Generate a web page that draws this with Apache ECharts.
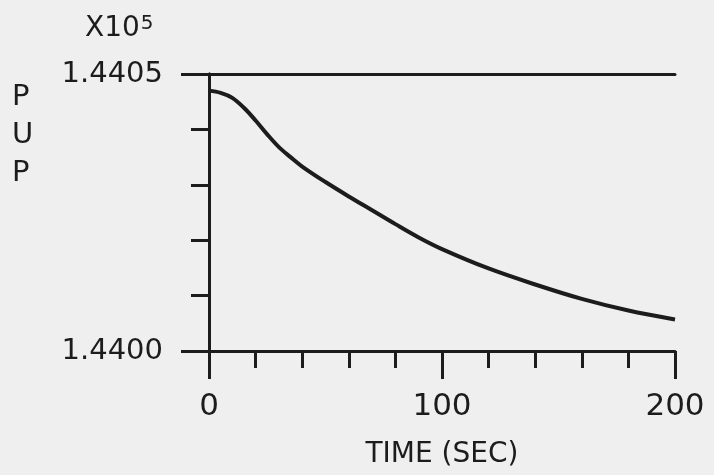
<!DOCTYPE html>
<html>
<head>
<meta charset="utf-8">
<script src="https://cdn.jsdelivr.net/npm/echarts@6/dist/echarts.min.js"></script>
<style>
  html, body { margin: 0; padding: 0; background: #efefef; }
  #chart { width: 714px; height: 475px; }
</style>
</head>
<body>
<div id="chart"></div>
<script>
// Pressure upstream (PUP) vs. time, raw units; axis labels are shown in units of 10^5
const timeSec = [0, 5, 10, 15, 20, 25, 30, 35, 40, 50, 60, 70, 80, 90, 100, 120, 140, 160, 180, 200];
const pup = [144047.0, 144046.6, 144045.7, 144043.9, 144041.6, 144039.1, 144036.8, 144035.0, 144033.3,
             144030.5, 144027.9, 144025.4, 144022.9, 144020.5, 144018.4, 144014.9, 144012.0,
             144009.4, 144007.3, 144005.7];
const xTickLabels = ['0', '100', '200'];
const yRange = [144000, 144050];
const scaleFactor = 1e5;

const ink = '#1c1c1c';
const fontFamily = 'DejaVu Sans';

const chart = echarts.init(document.getElementById('chart'));
const lineStyle = { color: ink, width: 3 };

chart.setOption({
  backgroundColor: '#efefef',
  animation: false,
  grid: { left: 209, right: 39, top: 74, bottom: 124 },
  xAxis: [
    { // bottom axis line with minor ticks every 20 s
      type: 'value', position: 'bottom', min: 0, max: 200, interval: 20,
      axisLine: { show: true, lineStyle },
      axisTick: { show: true, inside: false, length: 17, lineStyle },
      axisLabel: { show: false }, splitLine: { show: false }
    },
    { // major ticks and labels every 100 s
      type: 'value', position: 'bottom', min: 0, max: 200, interval: 100,
      axisLine: { show: false },
      axisTick: { show: true, inside: false, length: 28, lineStyle },
      axisLabel: {
        show: true, margin: 40, color: ink, fontSize: 31, fontFamily,
        formatter: (v) => xTickLabels[Math.round(v / 100)]
      },
      splitLine: { show: false },
      name: 'TIME (SEC)', nameLocation: 'middle', nameGap: 90,
      nameTextStyle: { color: ink, fontSize: 28, fontFamily }
    },
    { // top frame
      type: 'value', position: 'top', min: 0, max: 200,
      axisLine: { show: true, lineStyle }, axisTick: { show: false },
      axisLabel: { show: false }, splitLine: { show: false }
    }
  ],
  yAxis: [
    { // left axis with minor ticks
      type: 'value', position: 'left', min: yRange[0], max: yRange[1], interval: 10,
      axisLine: { show: true, lineStyle },
      axisTick: { show: true, inside: false, length: 18, lineStyle },
      axisLabel: { show: false }, splitLine: { show: false }
    },
    { // end ticks and labels
      type: 'value', position: 'left', min: yRange[0], max: yRange[1], interval: 50,
      axisLine: { show: false },
      axisTick: { show: true, inside: false, length: 28, lineStyle },
      axisLabel: {
        show: true, margin: 46, color: ink, fontSize: 29, fontFamily,
        formatter: (v) => (v / scaleFactor).toFixed(4)
      },
      splitLine: { show: false }
    },
    { // right frame
      type: 'value', position: 'right', min: yRange[0], max: yRange[1],
      axisLine: { show: true, lineStyle }, axisTick: { show: false },
      axisLabel: { show: false }, splitLine: { show: false }
    }
  ],
  graphic: [
    {
      type: 'text', left: 85, top: 14,
      style: {
        text: '{b|X10}{s|5}',
        rich: {
          b: { fontSize: 28, fontFamily, fill: ink },
          s: { fontSize: 20, fontFamily, fill: ink, verticalAlign: 'top', padding: [0, 0, 10, 1] }
        }
      }
    },
    {
      type: 'text', left: 12, top: 78,
      style: {
        text: 'P\nU\nP', fontSize: 29, fontFamily, fill: ink, lineHeight: 38, align: 'left'
      }
    }
  ],
  series: [{
    type: 'line',
    xAxisIndex: 0, yAxisIndex: 0,
    data: timeSec.map((t, i) => [t, pup[i]]),
    smooth: 0.35, showSymbol: false,
    lineStyle: { color: ink, width: 4 }
  }]
});
</script>
</body>
</html>
